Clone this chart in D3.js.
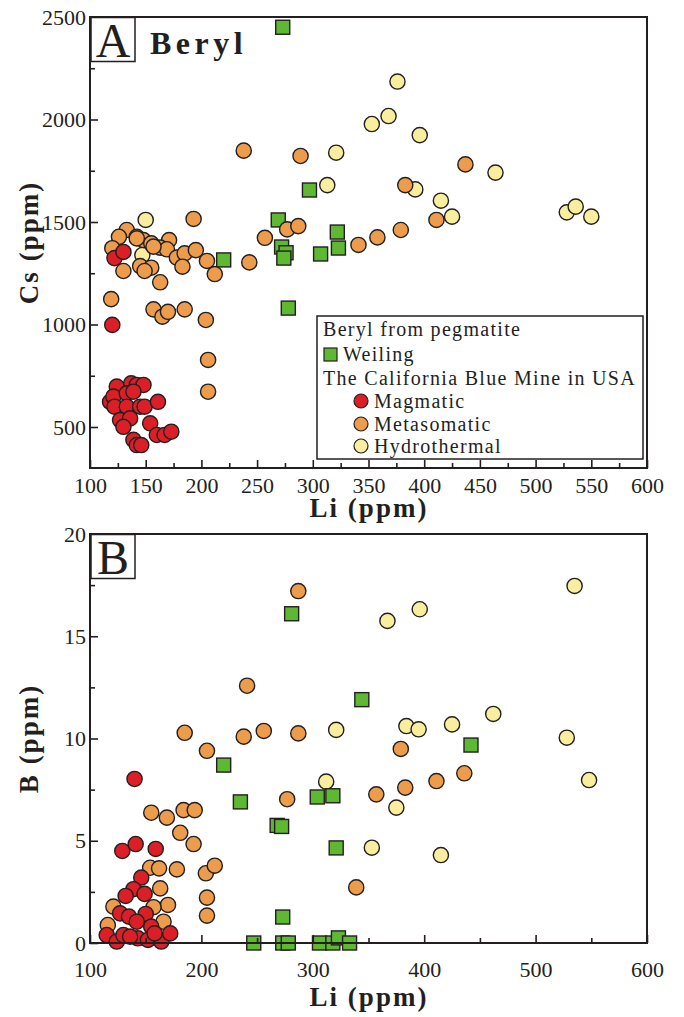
<!DOCTYPE html>
<html>
<head>
<meta charset="utf-8">
<script src="https://cdn.jsdelivr.net/npm/d3@7"></script>
<style>
body { margin: 0; background: #fff; }
svg { display: block; }
</style>
</head>
<body>
<div id="chart"></div>
<script>
// ---- data: [Li (ppm), value] ----
var liTicks = [100, 150, 200, 250, 300, 350, 400, 450, 500, 550, 600];
var liTicksB = [100, 200, 300, 400, 500, 600];
var csTicks = [500, 1000, 1500, 2000, 2500];
var bTicks = [0, 5, 10, 15, 20];

// panel A, Cs (ppm)
var weilingA = [[273,2450],[297,1656],[269,1510],[322,1451],[272,1378],[276,1350],[274,1324],
  [323,1373],[307,1344],[220,1315],[278,1080]];
var hydrothermalA = [[150,1510],[147,1339],[321,1838],[313,1680],[376,2185],[368,2017],[353,1978],
  [396,1924],[392,1659],[464,1741],[415,1604],[425,1526],[528,1547],[536,1575],[550,1526]];
var metasomaticA = [[193,1515],[133,1461],[126,1428],[142,1428],[148,1412],[155,1396],[171,1412],
  [163,1375],[169,1367],[120,1372],[178,1326],[185,1347],[195,1363],[205,1310],[212,1246],[183,1282],
  [130,1261],[145,1285],[155,1277],[149,1261],[163,1206],[243,1303],[257,1423],[277,1464],[287,1480],
  [119,1124],[157,1074],[165,1038],[170,1062],[185,1074],[204,1022],[206,827],[206,672],[238,1848],
  [289,1822],[437,1781],[383,1680],[411,1510],[379,1461],[358,1425],[341,1388],[142,1420],[157,1380]];
var magmaticA = [[122,1324],[130,1354],[120,998],[124,697],[137,713],[142,705],[148,705],[118,623],
  [121,648],[133,664],[139,672],[122,599],[133,599],[145,599],[149,599],[161,623],[127,534],[136,542],
  [130,501],[154,518],[160,461],[167,461],[173,477],[139,437],[142,412],[146,412]];

// panel B, B (ppm)
var weilingB = [[281,16.1],[220,8.7],[235,6.9],[268,5.75],[272,5.7],[304,7.14],[318,7.2],[321,4.65],
  [273,1.27],[247,0],[273,0],[278,0],[306,0],[318,0],[323,0.25],[333,0],[344,11.9],[442,9.68]];
var hydrothermalB = [[535,17.46],[396,16.32],[367,15.75],[462,11.2],[425,10.69],[384,10.61],[395,10.45],
  [321,10.42],[528,10.04],[312,7.89],[375,6.62],[353,4.66],[415,4.3],[548,7.97]];
var metasomaticB = [[287,17.21],[241,12.58],[185,10.28],[205,9.4],[238,10.09],[256,10.37],[287,10.25],
  [379,9.49],[357,7.27],[383,7.6],[411,7.92],[436,8.3],[339,2.72],[277,7.03],[155,6.37],[169,6.13],
  [184,6.5],[194,6.5],[181,5.39],[193,4.84],[154,3.68],[162,3.65],[178,3.6],[204,3.41],[212,3.78],
  [205,2.22],[205,1.34],[163,2.67],[170,1.86],[157,1.75],[121,1.78],[116,0.88],[166,1.04]];
var magmaticB = [[140,8.02],[129,4.5],[141,4.84],[159,4.6],[146,3.2],[139,2.63],[132,2.3],[149,2.4],
  [127,1.45],[135,1.29],[150,1.42],[142,1.04],[155,0.8],[115,0.39],[124,0.07],[130,0.39],[143,0.23],
  [152,0.15],[164,0.07],[172,0.47],[136,0.31],[158,0.47]];

var legendRows = ['Beryl from pegmatite', 'Weiling', 'The California Blue Mine in USA',
  'Magmatic', 'Metasomatic', 'Hydrothermal'];

var colors = {
  weiling: '#5fb832',
  magmatic: '#dc1f26',
  metasomatic: '#ec9c4a',
  hydrothermal: '#f9ee9e'
};
var ink = '#231f20';
var font = '"Liberation Serif", "Times New Roman", serif';

var width = 684, height = 1017;
var svg = d3.select('#chart').append('svg')
  .attr('width', width)
  .attr('height', height)
  .style('font-family', font);

var x = d3.scaleLinear().domain([100, 600]).range([90, 647]);

function range(a, b, step) {
  var out = [];
  for (var v = a; v <= b + 1e-9; v += step) out.push(v);
  return out;
}

function panel(cfg) {
  var y = d3.scaleLinear().domain(cfg.yDomain).range([cfg.bottom, cfg.top]);
  var g = svg.append('g');

  // points
  cfg.series.forEach(function(s) {
    if (s.shape == 'square') {
      g.append('g').selectAll('rect')
        .data(s.data).enter().append('rect')
        .attr('x', function(d) { return x(d[0]) - 7; })
        .attr('y', function(d) { return y(d[1]) - 7; })
        .attr('width', 14)
        .attr('height', 14)
        .attr('fill', s.color)
        .attr('stroke', ink)
        .attr('stroke-width', 1.4);
    } else {
      g.append('g').selectAll('circle')
        .data(s.data).enter().append('circle')
        .attr('cx', function(d) { return x(d[0]); })
        .attr('cy', function(d) { return y(d[1]); })
        .attr('r', 7.6)
        .attr('fill', s.color)
        .attr('stroke', ink)
        .attr('stroke-width', 1.4);
    }
  });

  // frame
  g.append('rect')
    .attr('x', 90).attr('y', cfg.top)
    .attr('width', 557).attr('height', cfg.bottom - cfg.top)
    .attr('fill', 'none')
    .attr('stroke', ink)
    .attr('stroke-width', 2);

  function clean(sel) {
    sel.select('.domain').remove();
    sel.selectAll('line').attr('stroke', ink).attr('stroke-width', 1.6);
    sel.selectAll('text').attr('fill', ink).style('font-family', font).style('font-size', '22px');
  }

  // x axis
  g.append('g').attr('transform', 'translate(0,' + cfg.bottom + ')')
    .call(d3.axisBottom(x).tickValues(cfg.xMinor).tickSize(-5).tickFormat(''))
    .call(clean);
  g.append('g').attr('transform', 'translate(0,' + cfg.bottom + ')')
    .call(d3.axisBottom(x).tickValues(cfg.xTicks).tickSize(-8).tickPadding(cfg.xPad).tickFormat(d3.format('d')))
    .call(clean);

  // y axis
  g.append('g').attr('transform', 'translate(90,0)')
    .call(d3.axisLeft(y).tickValues(cfg.yMinor).tickSize(-5).tickFormat(''))
    .call(clean);
  g.append('g').attr('transform', 'translate(90,0)')
    .call(d3.axisLeft(y).tickValues(cfg.yTicks).tickSize(-8).tickPadding(4).tickFormat(d3.format('d')))
    .call(clean);

  // axis titles
  g.append('text')
    .attr('x', 369).attr('y', cfg.xTitleY)
    .attr('text-anchor', 'middle')
    .attr('font-weight', 'bold')
    .attr('font-size', '27px')
    .attr('letter-spacing', '2px')
    .attr('fill', ink)
    .text('Li (ppm)');
  g.append('text')
    .attr('transform', 'translate(38,' + (cfg.top + cfg.bottom) / 2 + ') rotate(-90)')
    .attr('text-anchor', 'middle')
    .attr('font-weight', 'bold')
    .attr('font-size', '27px')
    .attr('letter-spacing', '2px')
    .attr('fill', ink)
    .text(cfg.yTitle);

  // panel letter box
  g.append('rect')
    .attr('x', 91).attr('y', cfg.top + 0.5)
    .attr('width', 44).attr('height', 44)
    .attr('fill', '#fff')
    .attr('stroke', ink)
    .attr('stroke-width', 1.5);
  g.append('text')
    .attr('x', 113).attr('y', cfg.top + 40)
    .attr('text-anchor', 'middle')
    .attr('font-size', '48px')
    .attr('fill', ink)
    .text(cfg.letter);

  return { g: g, y: y };
}

var pa = panel({
  top: 17, bottom: 468, yDomain: [300, 2500],
  xTicks: liTicks, xMinor: range(125, 575, 50), xPad: 9,
  yTicks: csTicks, yMinor: [750, 1250, 1750, 2250],
  xTitleY: 517, yTitle: 'Cs (ppm)', letter: 'A',
  series: [
    { data: weilingA, color: colors.weiling, shape: 'square' },
    { data: hydrothermalA, color: colors.hydrothermal },
    { data: metasomaticA, color: colors.metasomatic },
    { data: magmaticA, color: colors.magmatic }
  ]
});

panel({
  top: 534, bottom: 943, yDomain: [0, 20],
  xTicks: liTicksB, xMinor: range(150, 550, 100), xPad: 18,
  yTicks: bTicks, yMinor: [2.5, 7.5, 12.5, 17.5],
  xTitleY: 1006, yTitle: 'B (ppm)', letter: 'B',
  series: [
    { data: hydrothermalB, color: colors.hydrothermal },
    { data: metasomaticB, color: colors.metasomatic },
    { data: magmaticB, color: colors.magmatic },
    { data: weilingB, color: colors.weiling, shape: 'square' }
  ]
});

// "Beryl" title
pa.g.append('text')
  .attr('x', 150).attr('y', 54)
  .attr('font-weight', 'bold')
  .attr('font-size', '32px')
  .attr('letter-spacing', '4.5px')
  .attr('fill', ink)
  .text('Beryl');

// legend
var legend = pa.g.append('g');
legend.append('rect')
  .attr('x', 317).attr('y', 316)
  .attr('width', 326).attr('height', 143)
  .attr('fill', '#fff')
  .attr('stroke', ink)
  .attr('stroke-width', 1.5);

var rowY = [336, 361, 385, 408, 431, 453];
var markers = [null, 'weiling', null, 'magmatic', 'metasomatic', 'hydrothermal'];
legendRows.forEach(function(t, i) {
  var tx = 323;
  if (markers[i] == 'weiling') {
    legend.append('rect')
      .attr('x', 324).attr('y', rowY[i] - 13)
      .attr('width', 13).attr('height', 13)
      .attr('fill', colors.weiling)
      .attr('stroke', ink).attr('stroke-width', 1.2);
    tx = 343;
  } else if (markers[i]) {
    legend.append('circle')
      .attr('cx', 361).attr('cy', rowY[i] - 7)
      .attr('r', 7)
      .attr('fill', colors[markers[i]])
      .attr('stroke', ink).attr('stroke-width', 1.2);
    tx = 374;
  }
  legend.append('text')
    .attr('x', tx).attr('y', rowY[i])
    .attr('font-size', '20px')
    .attr('letter-spacing', '1.3px')
    .attr('fill', ink)
    .text(t);
});
</script>
</body>
</html>
